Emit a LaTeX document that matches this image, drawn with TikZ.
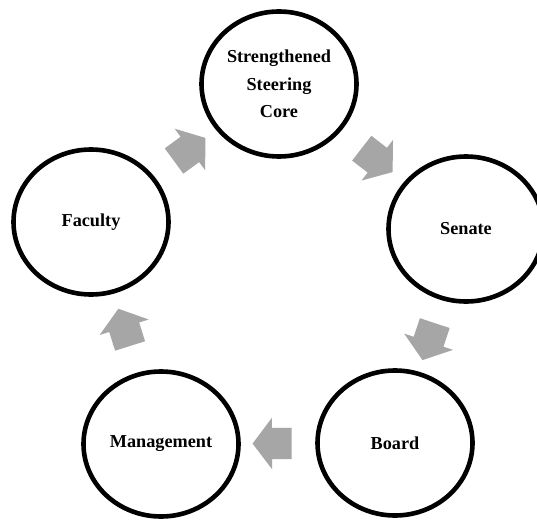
\documentclass[tikz,border=0pt]{standalone}
\usepackage{fontspec}
\setmainfont{Liberation Serif}
\usetikzlibrary{shapes.geometric,shapes.arrows}
\definecolor{arrowgray}{HTML}{A6A6A6}
\begin{document}
\begin{tikzpicture}[x=1bp,y=-1bp,
  cyc/.style={ellipse, draw=black, line width=4.6bp, minimum width=155bp, minimum height=145bp,
    inner sep=0pt, align=center, font=\fontsize{18.3}{27.5}\selectfont\bfseries},
  blockarrow/.style={single arrow, fill=arrowgray, draw=none, inner xsep=0pt, inner ysep=15.5bp,
    minimum height=39bp, minimum width=51bp, single arrow head extend=10bp,
    single arrow tip angle=106, sloped, allow upside down}]
\useasboundingbox (0,0) rectangle (537,521);
\clip (0,0) rectangle (537,521);
\fill[white] (0,0) rectangle (537,521);
\node[cyc] (core) at (279,84) {Strengthened\\Steering\\Core};
\node[cyc] (senate) at (466,229) {Senate};
\node[cyc] (board) at (395,443) {Board};
\node[cyc] (mgmt) at (161,444) {Management};
\node[cyc] (fac) at (91,222) {Faculty};
\path (core.center) -- node[blockarrow] (a1) {} (senate.center);
\path (senate.center) -- node[blockarrow] (a2) {} (board.center);
\path (board.center) -- node[blockarrow] (a3) {} (mgmt.center);
\path (mgmt.center) -- node[blockarrow] (a4) {} (fac.center);
\path (fac.center) -- node[blockarrow] (a5) {} (core.center);
\end{tikzpicture}
\end{document}
